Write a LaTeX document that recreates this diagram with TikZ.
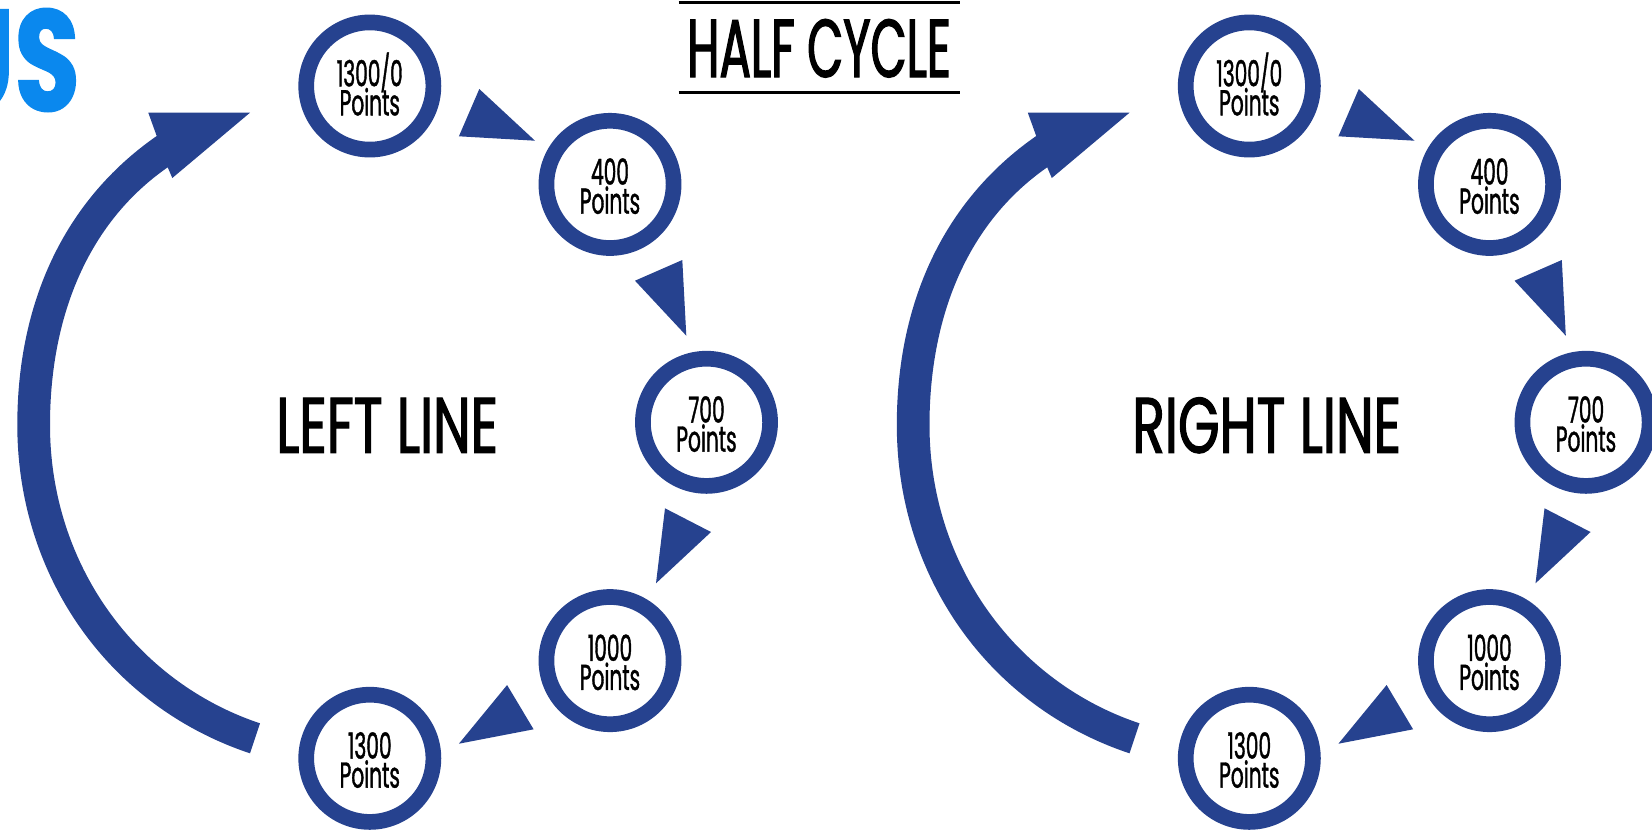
\documentclass[tikz,border=0pt]{standalone}
\usepackage{fontspec}
\setmainfont{Poppins}[FakeStretch=.56,FakeBold=1]
\newfontfamily\logofont{Poppins}[FakeStretch=.74,FakeBold=1]
\newfontfamily\cyclefont{Poppins}[FakeStretch=.57,FakeBold=1.5]
\newfontfamily\linefont{Poppins}[FakeStretch=.68,FakeBold=1.5]
\usepackage{xcolor}
\definecolor{ringblue}{RGB}{38,66,143}
\definecolor{logoblue}{RGB}{10,136,238}
\newcommand{\ptlabel}[1]{\rule{0pt}{15pt}\smash{#1}\\Points}
\tikzset{
  pointnode/.style={circle,draw=ringblue,line width=7.85pt,fill=white,minimum size=63.6pt,inner sep=0pt,outer sep=0pt,
    align=center,font=\fontsize{18}{14.5}\selectfont},
  linetitle/.style={font=\linefont\fontsize{39.3}{39.3}\selectfont},
  pointer/.style={fill=ringblue}
}

\begin{document}
\begin{tikzpicture}[x=.5pt,y=-.5pt]
      \useasboundingbox (0,0) rectangle (1652,831);

      \node[font=\logofont\bfseries\fontsize{72}{72}\selectfont,text=logoblue,anchor=east] (logo) at (87,60) {US};

      \node[font=\cyclefont\fontsize{41}{41}\selectfont] (cycle) at (819,48.3) {HALF CYCLE};
      \draw[line width=1.25pt] (678.7,2.3) -- (959.7,2.3);
      \draw[line width=1.25pt] (678.7,92.3) -- (959.7,92.3);

      \foreach \sd/\dx/\ttl in {l/0/LEFT LINE,r/879.5/RIGHT LINE} {
        \begin{scope}[shift={(\dx,0)}]
          \node[pointnode] (\sd-a) at (369.8,86) {\ptlabel{1300/0}};
          \node[pointnode] (\sd-b) at (610,184.4) {\ptlabel{400}};
          \node[pointnode] (\sd-c) at (706.5,422.3) {\ptlabel{700}};
          \node[pointnode] (\sd-d) at (610,660.6) {\ptlabel{1000}};
          \node[pointnode] (\sd-e) at (369.8,758.3) {\ptlabel{1300}};
          \node[linetitle] (\sd-title) at (387.2,425.3) {\ttl};

          \fill[pointer] (479.3,89) -- (458.9,136.3) -- (535,140.7) -- cycle;
          \fill[pointer] (682.3,260) -- (635,280.7) -- (686.3,335.7) -- cycle;
          \fill[pointer] (665,508.3) -- (711,532) -- (656,583.3) -- cycle;
          \fill[pointer] (507.1,685) -- (533.6,729.3) -- (458.9,743.7) -- cycle;

          % big return arrow
          \fill[pointer] (250,753.3) .. controls (107.6,705.9) and (17.3,575) .. (17.3,425)
            .. controls (17.3,305) and (62.4,201.6) .. (156.7,136)
            -- (148.3,112.7) -- (250,112.7) -- (172.3,178) -- (167.7,167.3)
            .. controls (85.7,224.3) and (50,320) .. (50,425)
            .. controls (50,565) and (136.6,682.2) .. (260,723.3) -- cycle;
        \end{scope}
      }
    \end{tikzpicture}
\end{document}
